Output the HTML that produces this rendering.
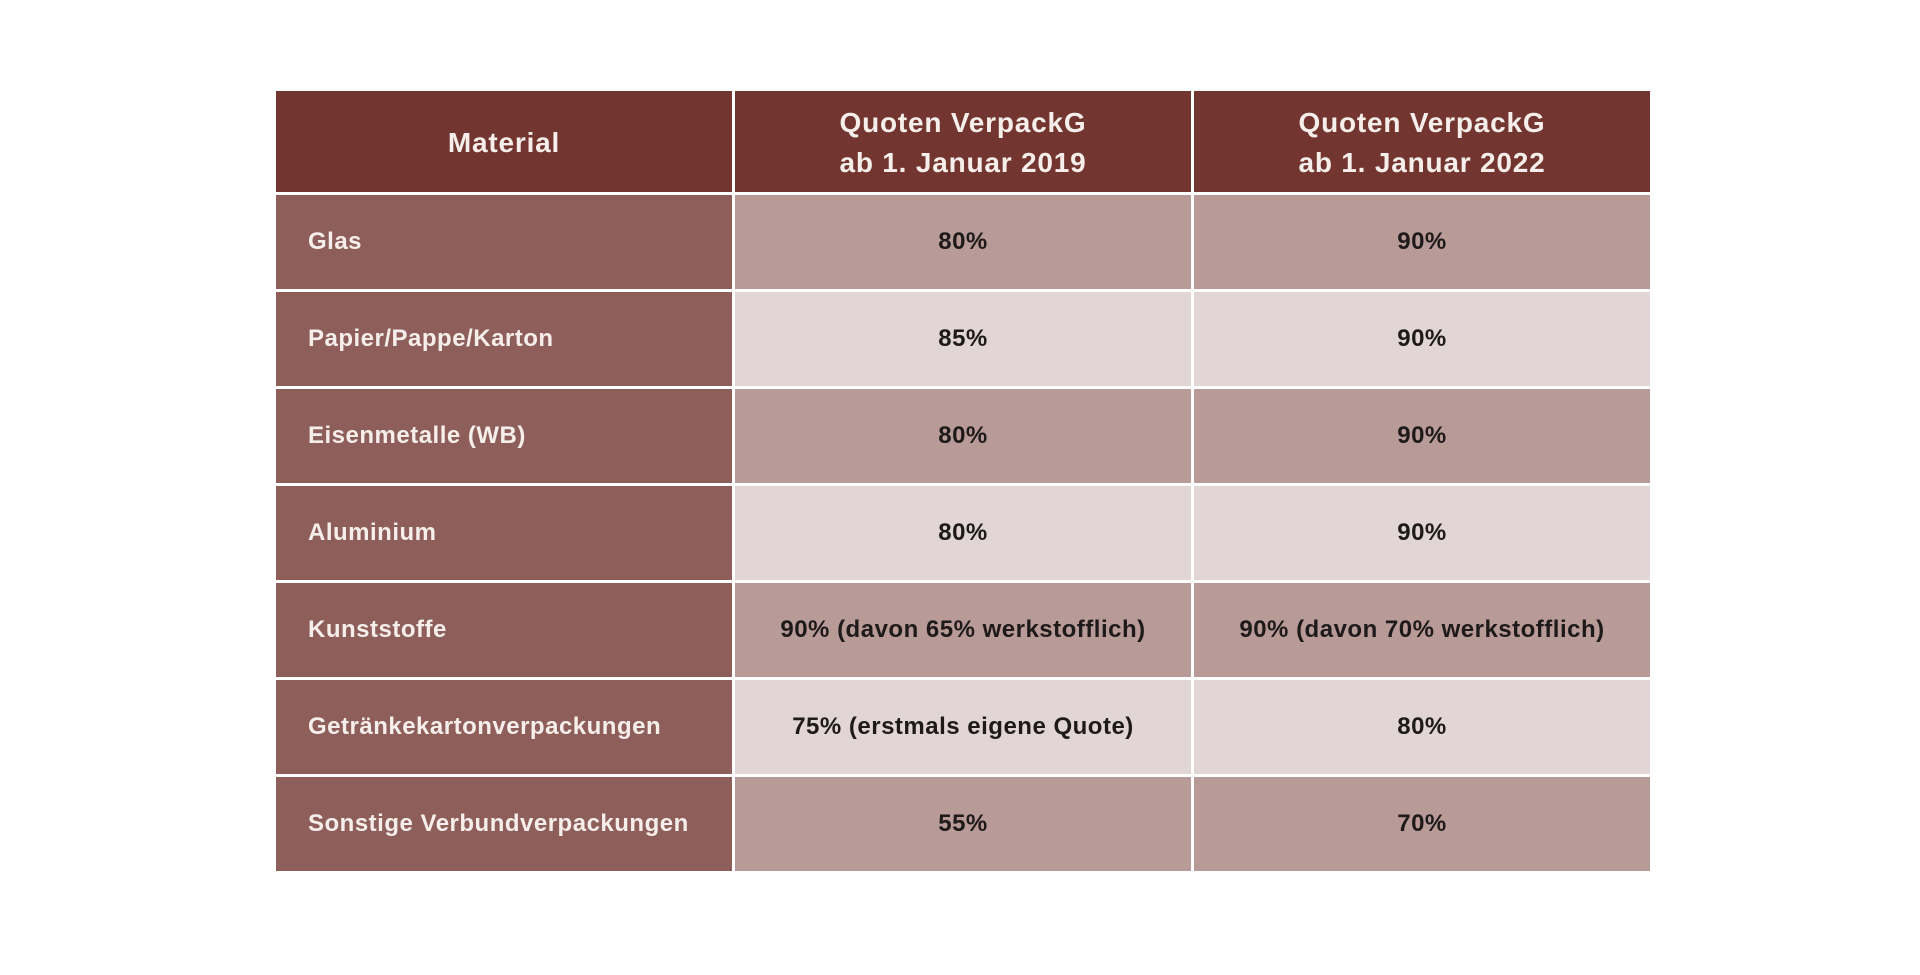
<!DOCTYPE html>
<html><head><meta charset="utf-8"><style>
html,body{margin:0;padding:0;background:#fff;width:1920px;height:975px;overflow:hidden}
.t{position:absolute;left:276px;top:91px;display:grid;grid-template-columns:456px 456px 456px;grid-template-rows:101px repeat(7,94px);gap:3px;background:#fff;font-family:"Liberation Sans",sans-serif;font-weight:bold}
.c{display:flex;align-items:center;justify-content:center;text-align:center;font-size:24px;color:#1e1a1a;letter-spacing:0.5px}
.h{background:#72352f;color:#f6eeea;font-size:28px;line-height:40px;letter-spacing:0.8px;padding-top:3px;box-sizing:border-box}
.l{background:#8e5e5a;color:#f6eeea;justify-content:flex-start;padding-left:32px;font-size:24px}
.d{background:#b89a97}.g{background:#e1d6d5}
</style></head><body>
<div class="t">
<div class="c h">Material</div>
<div class="c h">Quoten VerpackG<br>ab 1. Januar 2019</div>
<div class="c h">Quoten VerpackG<br>ab 1. Januar 2022</div>
<div class="c l">Glas</div>
<div class="c d">80%</div>
<div class="c d">90%</div>
<div class="c l">Papier/Pappe/Karton</div>
<div class="c g">85%</div>
<div class="c g">90%</div>
<div class="c l">Eisenmetalle (WB)</div>
<div class="c d">80%</div>
<div class="c d">90%</div>
<div class="c l">Aluminium</div>
<div class="c g">80%</div>
<div class="c g">90%</div>
<div class="c l">Kunststoffe</div>
<div class="c d">90% (davon 65% werkstofflich)</div>
<div class="c d">90% (davon 70% werkstofflich)</div>
<div class="c l">Getränkekartonverpackungen</div>
<div class="c g">75% (erstmals eigene Quote)</div>
<div class="c g">80%</div>
<div class="c l">Sonstige Verbundverpackungen</div>
<div class="c d">55%</div>
<div class="c d">70%</div>
</div>
</body></html>
